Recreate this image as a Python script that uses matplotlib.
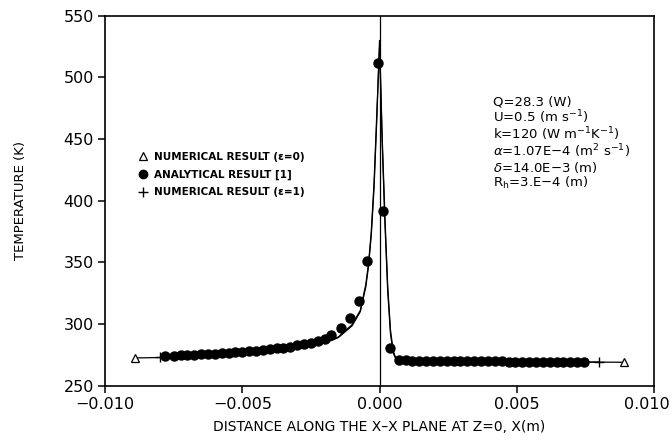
import matplotlib
matplotlib.use("Agg")
import matplotlib.pyplot as plt
import matplotlib.transforms as mtransforms
from matplotlib.lines import Line2D

# analytical result [1] (x in m, T in K)
ana_x = [-7.8e-3, -7.5e-3, -7.25e-3, -7.0e-3, -6.75e-3, -6.5e-3, -6.25e-3, -6.0e-3,
         -5.75e-3, -5.5e-3, -5.25e-3, -5.0e-3, -4.75e-3, -4.5e-3, -4.25e-3, -4.0e-3,
         -3.75e-3, -3.5e-3, -3.25e-3, -3.0e-3, -2.75e-3, -2.5e-3, -2.25e-3, -2.0e-3,
         -1.75e-3, -1.4e-3, -1.07e-3, -0.74e-3, -0.47e-3, -0.05e-3,
         0.14e-3, 0.38e-3, 0.7e-3, 0.95e-3, 1.2e-3, 1.45e-3, 1.7e-3, 1.95e-3, 2.2e-3,
         2.45e-3, 2.7e-3, 2.95e-3, 3.2e-3, 3.45e-3, 3.7e-3, 3.95e-3, 4.2e-3, 4.45e-3,
         4.7e-3, 4.95e-3, 5.2e-3, 5.45e-3, 5.7e-3, 5.95e-3, 6.2e-3, 6.45e-3, 6.7e-3,
         6.95e-3, 7.2e-3, 7.45e-3]
ana_T = [274.0, 274.2, 274.5, 274.8, 275.0, 275.3, 275.6, 276.0,
         276.3, 276.7, 277.1, 277.5, 278.0, 278.5, 279.0, 279.6,
         280.2, 280.9, 281.7, 282.6, 283.6, 284.8, 286.3, 288.2,
         291.0, 297.0, 305.0, 319.0, 351.0, 512.0,
         392.0, 280.5, 271.0, 270.5, 270.3, 270.2, 270.1, 270.0, 270.0,
         270.0, 269.9, 269.9, 269.8, 269.8, 269.8, 269.7, 269.7, 269.7,
         269.6, 269.6, 269.6, 269.5, 269.5, 269.5, 269.5, 269.4, 269.4,
         269.4, 269.4, 269.3]

# numerical result, eps = 0
num0_x = [-8.9e-3, -8.0e-3, -6.0e-3, -4.0e-3, -3.0e-3, -2.0e-3, -1.5e-3, -1.0e-3,
          -0.7e-3, -0.5e-3, -0.4e-3, -0.3e-3, -0.2e-3, -0.1e-3, 0.0,
          0.1e-3, 0.2e-3, 0.3e-3, 0.4e-3, 0.5e-3, 0.6e-3, 0.8e-3, 2.0e-3,
          5.0e-3, 8.0e-3, 8.9e-3]
num0_T = [272.5, 272.8, 274.5, 277.5, 280.0, 284.5, 289.0, 298.5,
          310.0, 330.0, 347.0, 372.0, 410.0, 465.0, 530.0,
          450.0, 385.0, 330.0, 295.0, 278.0, 272.0, 270.0, 269.6,
          269.3, 269.1, 269.0]

# numerical result, eps = 1
num1_x = [-8.0e-3, -6.0e-3, -4.0e-3, -3.0e-3, -2.0e-3, -1.5e-3, -1.0e-3,
          -0.7e-3, -0.5e-3, -0.4e-3, -0.3e-3, -0.2e-3, -0.1e-3, 0.0,
          0.1e-3, 0.2e-3, 0.3e-3, 0.4e-3, 0.5e-3, 0.6e-3, 0.8e-3, 2.0e-3,
          5.0e-3, 8.0e-3]
num1_T = [273.0, 274.7, 277.8, 280.3, 285.0, 289.5, 299.5,
          311.0, 332.0, 349.0, 375.0, 414.0, 470.0, 524.0,
          445.0, 380.0, 326.0, 292.0, 276.5, 271.5, 270.0, 269.6,
          269.3, 269.1]

params = ["Q=28.3 (W)",
          r"U=0.5 (m s$^{\mathregular{-1}}$)",
          r"k=120 (W m$^{\mathregular{-1}}$K$^{\mathregular{-1}}$)",
          r"$\alpha$=1.07E$-$4 (m$^{\mathregular{2}}$ s$^{\mathregular{-1}}$)",
          r"$\delta$=14.0E$-$3 (m)",
          r"R$_{\mathregular{h}}$=3.E$-$4 (m)"]

fig = plt.figure(figsize=(6.72, 4.45), dpi=100)
ax = fig.add_axes([0.1563, 0.1333, 0.8169, 0.8314])

ax.axvline(0.0, color="black", lw=0.9)
ax.plot(num0_x, num0_T, color="black", lw=0.9)
ax.plot(num1_x, num1_T, color="black", lw=0.9)
ax.plot([num0_x[0], num0_x[-1]], [num0_T[0], num0_T[-1]], ls="none",
        marker="^", ms=6, mfc="white", mec="black", mew=0.9)
ax.plot([num1_x[0], num1_x[-1]], [num1_T[0], num1_T[-1]], ls="none",
        marker="+", ms=7, mec="black", mew=1.0)
ax.plot(ana_x, ana_T, ls="none", marker="o", ms=6.5, color="black")

ax.set_xlim(-0.010, 0.010)
ax.set_ylim(250, 550)
ax.set_xticks([-0.010, -0.005, 0.000, 0.005, 0.010])
ax.set_xticklabels(["\u22120.010", "\u22120.005", "0.000", "0.005", "0.010"])
ax.set_yticks([250, 300, 350, 400, 450, 500, 550])
ax.tick_params(direction="out", length=5, width=1.1, labelsize=11.5, pad=3)
for s in ax.spines.values():
    s.set_linewidth(1.2)

# keep the last x tick label inside the figure
last = ax.get_xticklabels()[-1]
last.set_transform(last.get_transform() +
                   mtransforms.ScaledTranslation(-5 / 72, 0, fig.dpi_scale_trans))

ax.set_xlabel("DISTANCE ALONG THE X\u2013X PLANE AT Z=0, X(m)", fontsize=10, labelpad=6)
ax.set_ylabel("TEMPERATURE (K)", fontsize=9.5, labelpad=26)

handles = [Line2D([], [], ls="none", marker="^", ms=6, mfc="white", mec="black", mew=0.9),
           Line2D([], [], ls="none", marker="o", ms=6, color="black"),
           Line2D([], [], ls="none", marker="+", ms=7, mec="black", mew=1.0)]
labels = ["NUMERICAL RESULT (\u03b5=0)", "ANALYTICAL RESULT [1]", "NUMERICAL RESULT (\u03b5=1)"]
leg = ax.legend(handles, labels, loc="upper left", bbox_to_anchor=(0.05, 0.647),
                frameon=False, fontsize=7.5, handlelength=1.0, handletextpad=0.6,
                labelspacing=0.75, borderpad=0)
for t in leg.get_texts():
    t.set_fontweight("bold")

ax.text(0.707, 0.785, "\n".join(params), transform=ax.transAxes, fontsize=9.5,
        va="top", ha="left", linespacing=0.98)

fig.savefig("out.png", dpi=100)
